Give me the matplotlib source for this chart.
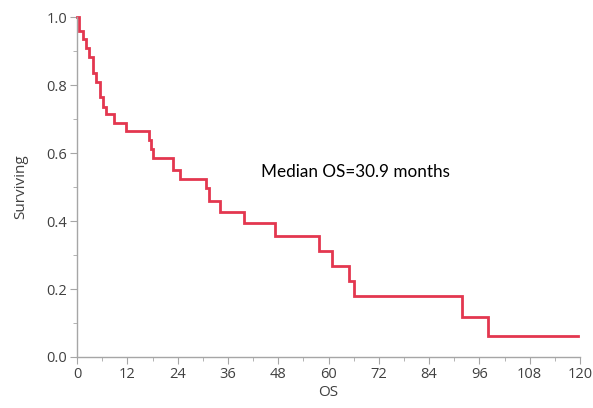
import matplotlib
matplotlib.use("Agg")
import matplotlib.pyplot as plt
from matplotlib.ticker import MultipleLocator

#--- data
times = [0, 0.5, 1.3, 2.1, 2.9, 3.7, 4.5, 5.5, 6.25, 6.9, 8.8, 11.6,
         17.2, 17.7, 18.1, 22.9, 24.6, 30.8, 31.4, 34.0, 39.8, 47.3,
         57.7, 60.9, 64.9, 66.1, 91.8, 98.1, 119.5]
surv = [1.0, 0.96, 0.935, 0.909, 0.883, 0.837, 0.81, 0.764, 0.736, 0.716,
        0.688, 0.664, 0.639, 0.612, 0.585, 0.55, 0.523, 0.496, 0.46, 0.428,
        0.395, 0.355, 0.312, 0.268, 0.224, 0.179, 0.118, 0.062, 0.062]
x_ticks = [0, 12, 24, 36, 48, 60, 72, 84, 96, 108, 120]
y_ticks = [0.0, 0.2, 0.4, 0.6, 0.8, 1.0]

#--- plot
fig = plt.figure(figsize=(5.93, 4.08), dpi=100)
ax = fig.add_axes([0.13, 0.125, 0.848, 0.833])

ax.step(times, surv, where='post', color='#e3374f', linewidth=2.0,
        solid_joinstyle='miter', clip_on=False)

ax.set_xlim(0, 120)
ax.set_ylim(0, 1.0)
ax.set_xticks(x_ticks)
ax.set_yticks(y_ticks)
ax.set_yticklabels([f'{v:.1f}' for v in y_ticks])
ax.xaxis.set_minor_locator(MultipleLocator(6))
ax.yaxis.set_minor_locator(MultipleLocator(0.1))

for s in ['top', 'right']:
    ax.spines[s].set_visible(False)
for s in ['left', 'bottom']:
    ax.spines[s].set_color('#a6a6a6')
    ax.spines[s].set_linewidth(1.0)

ax.tick_params(which='major', length=5, color='#a6a6a6', labelsize=10.5,
               labelcolor='#404040', pad=2)
ax.tick_params(which='minor', length=3, color='#a6a6a6')
for lab in ax.get_xticklabels() + ax.get_yticklabels():
    lab.set_family('Open Sans')

ax.set_xlabel('OS', fontsize=11, color='#404040', family='Open Sans', labelpad=2)
ax.set_ylabel('Surviving', fontsize=11, color='#404040', family='Open Sans', labelpad=13)

ax.text(44, 0.544, 'Median OS=30.9 months', fontsize=12.3, family='Lato',
        color='black', va='center', ha='left')

plt.savefig('out.png', dpi=100)
